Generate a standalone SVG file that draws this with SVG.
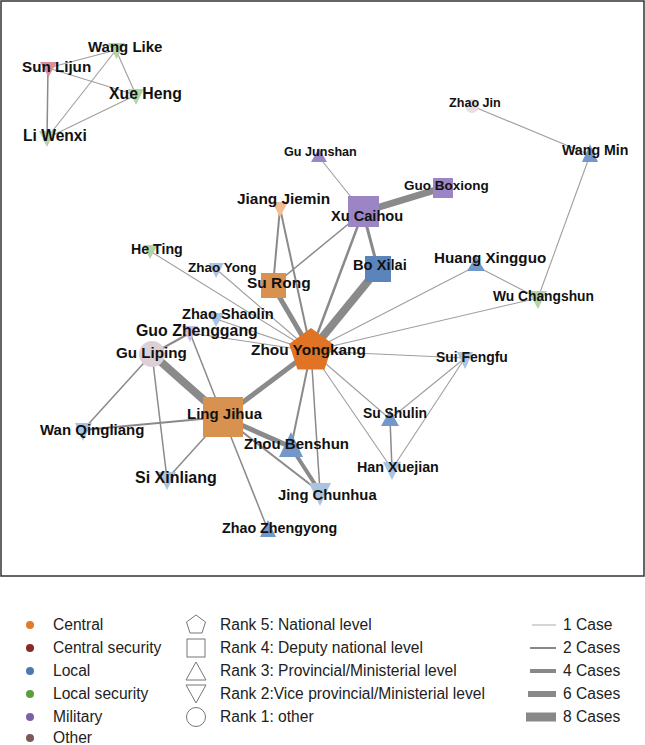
<svg xmlns="http://www.w3.org/2000/svg" width="645" height="745" viewBox="0 0 645 745">
<style>
.e{stroke:#8a8a8a;fill:none;stroke-linecap:butt}
.t{stroke:#9e9e9e;stroke-width:1.1}
.lb{font-family:"Liberation Sans",Arial,sans-serif;font-weight:bold;fill:#111}
.lg{font-family:"Liberation Sans",Arial,sans-serif;font-size:15.6px;fill:#222}
.ic{fill:#fff;stroke:#777;stroke-width:1}
.cen{fill:#e07424}.cenl{fill:#d9914f}.cenx{fill:#f2bd93}
.sec{fill:#dc8e99}
.loc3{fill:#7397c8}.loc2{fill:#a9c4e0}.loc4{fill:#5b84ba}
.ls{fill:#b3d5a6}
.mil{fill:#9c85c5}.mil2{fill:#c9bce2}
.oth{fill:#dccfd6}.oth2{fill:#e9dde2}
</style>
<rect x="1" y="1" width="643" height="575" fill="#fff" stroke="#333" stroke-width="1.5"/>
<g id="connectors">
<line class="e t" x1="48" y1="68" x2="116" y2="50"/>
<line class="e t" x1="48" y1="68" x2="136" y2="95"/>
<line class="e" stroke-width="1.5" x1="48" y1="68" x2="47" y2="138"/>
<line class="e t" x1="116" y1="50" x2="136" y2="95"/>
<line class="e t" x1="116" y1="50" x2="47" y2="138"/>
<line class="e t" x1="136" y1="95" x2="47" y2="138"/>
<line class="e t" x1="472" y1="106" x2="590" y2="155"/>
<line class="e t" x1="590" y1="155" x2="538" y2="298"/>
<line class="e t" x1="476" y1="266" x2="538" y2="298"/>
<line class="e t" x1="476" y1="266" x2="311" y2="351"/>
<line class="e t" x1="538" y1="298" x2="311" y2="351"/>
<line class="e t" x1="319" y1="157" x2="363" y2="212"/>
<line class="e" stroke-width="7" x1="442" y1="188" x2="363" y2="212"/>
<line class="e" stroke-width="3" x1="363" y1="212" x2="378" y2="269"/>
<line class="e" stroke-width="2.5" x1="363" y1="212" x2="311" y2="351"/>
<line class="e" stroke-width="1.5" x1="363" y1="212" x2="273" y2="286"/>
<line class="e" stroke-width="2" x1="280" y1="208" x2="273" y2="286"/>
<line class="e" stroke-width="2" x1="280" y1="208" x2="311" y2="351"/>
<line class="e" stroke-width="8" x1="378" y1="269" x2="311" y2="351"/>
<line class="e" stroke-width="5" x1="273" y1="286" x2="311" y2="351"/>
<line class="e t" x1="150" y1="251" x2="311" y2="351"/>
<line class="e t" x1="216" y1="269" x2="311" y2="351"/>
<line class="e t" x1="216" y1="319" x2="311" y2="351"/>
<line class="e t" x1="190" y1="333" x2="311" y2="351"/>
<line class="e" stroke-width="2" x1="190" y1="333" x2="152" y2="354"/>
<line class="e" stroke-width="1.5" x1="190" y1="333" x2="223" y2="417"/>
<line class="e" stroke-width="8" x1="152" y1="354" x2="223" y2="417"/>
<line class="e" stroke-width="1.5" x1="152" y1="354" x2="83" y2="430"/>
<line class="e" stroke-width="1.5" x1="152" y1="354" x2="167" y2="479"/>
<line class="e" stroke-width="2" x1="83" y1="430" x2="223" y2="417"/>
<line class="e" stroke-width="1.5" x1="167" y1="479" x2="223" y2="417"/>
<line class="e" stroke-width="5" x1="223" y1="417" x2="311" y2="351"/>
<line class="e" stroke-width="5" x1="223" y1="417" x2="291" y2="447"/>
<line class="e" stroke-width="2" x1="223" y1="417" x2="320" y2="492"/>
<line class="e" stroke-width="1.5" x1="223" y1="417" x2="268" y2="530"/>
<line class="e" stroke-width="4" x1="291" y1="447" x2="320" y2="492"/>
<line class="e" stroke-width="2" x1="311" y1="351" x2="291" y2="447"/>
<line class="e" stroke="#b0b0b0" stroke-width="1.5" x1="311" y1="351" x2="320" y2="492"/>
<line class="e t" x1="311" y1="351" x2="465" y2="358"/>
<line class="e t" x1="311" y1="351" x2="390" y2="419"/>
<line class="e t" x1="311" y1="351" x2="392" y2="469"/>
<line class="e t" x1="465" y1="358" x2="390" y2="419"/>
<line class="e t" x1="465" y1="358" x2="392" y2="469"/>
<line class="e" stroke-width="1.5" x1="390" y1="419" x2="392" y2="469"/>
</g>
<g id="node-sun-lijun"><polygon class="sec" points="40,62 57,62 48.5,77"/><text class="lb" x="22" y="72" font-size="15.2">Sun Lijun</text></g>
<g id="node-wang-like"><polygon class="ls" points="108,43 125,43 116.5,59"/><text class="lb" x="88" y="52" font-size="15">Wang Like</text></g>
<g id="node-xue-heng"><polygon class="ls" points="128,89 144,89 136,105"/><text class="lb" x="109" y="99" font-size="15.8">Xue Heng</text></g>
<g id="node-li-wenxi"><polygon class="ls" points="39,131 55,131 47,147"/><text class="lb" x="23" y="141" font-size="15.6">Li Wenxi</text></g>
<g id="node-zhao-jin"><circle class="oth2" cx="472" cy="106" r="7"/><text class="lb" x="449" y="107" font-size="12.6">Zhao Jin</text></g>
<g id="node-wang-min"><polygon class="loc3" points="590,144 598,162 582,162"/><text class="lb" x="562" y="155" font-size="14.2">Wang Min</text></g>
<g id="node-gu-junshan"><polygon class="mil" points="319,148 327,162 311,162"/><text class="lb" x="284" y="156" font-size="12.6">Gu Junshan</text></g>
<g id="node-guo-boxiong"><rect class="mil" x="433" y="178" width="20" height="20"/><text class="lb" x="404" y="190" font-size="13.5">Guo Boxiong</text></g>
<g id="node-jiang-jiemin"><polygon class="cenx" points="272,202 288,202 280,217"/><text class="lb" x="237" y="204" font-size="15.4">Jiang Jiemin</text></g>
<g id="node-xu-caihou"><rect class="mil" x="348" y="196" width="31" height="31"/><text class="lb" x="331" y="221" font-size="14.6">Xu Caihou</text></g>
<g id="node-he-ting"><polygon class="ls" points="143,245 158,245 150,259"/><text class="lb" x="131" y="254" font-size="14.2">He Ting</text></g>
<g id="node-huang-xingguo"><polygon class="loc3" points="476,256 485,271 467,271"/><text class="lb" x="434" y="263" font-size="15.2">Huang Xingguo</text></g>
<g id="node-bo-xilai"><rect class="loc4" x="365" y="256" width="26" height="26"/><text class="lb" x="353" y="270" font-size="14.7">Bo Xilai</text></g>
<g id="node-zhao-yong"><polygon class="loc2" points="209,263 224,263 216,278"/><text class="lb" x="188" y="272" font-size="13.5">Zhao Yong</text></g>
<g id="node-su-rong"><rect class="cenl" x="261" y="273" width="25" height="25"/><text class="lb" x="247" y="288" font-size="15.5">Su Rong</text></g>
<g id="node-wu-changshun"><polygon class="ls" points="528,291 547,291 538,309"/><text class="lb" x="493" y="301" font-size="13.8">Wu Changshun</text></g>
<g id="node-zhao-shaolin"><polygon class="loc2" points="209,313 224,313 216,327"/><text class="lb" x="182" y="319" font-size="14.6">Zhao Shaolin</text></g>
<g id="node-guo-zhenggang"><polygon class="mil2" points="182,326 198,326 190,342"/><text class="lb" x="136" y="336" font-size="15.9">Guo Zhenggang</text></g>
<g id="node-zhou-yongkang"><polygon class="cen" points="311,328 332.9,343.9 324.5,369.6 297.5,369.6 289.1,343.9"/><text class="lb" x="251" y="355" font-size="15.4">Zhou Yongkang</text></g>
<g id="node-gu-liping"><circle class="oth" cx="152" cy="354" r="13"/><text class="lb" x="116" y="358" font-size="15.2">Gu Liping</text></g>
<g id="node-sui-fengfu"><polygon class="loc2" points="457,352 473,352 465,369"/><text class="lb" x="436" y="362" font-size="13.9">Sui Fengfu</text></g>
<g id="node-su-shulin"><polygon class="loc3" points="390,410 399,426 381,426"/><text class="lb" x="363" y="418" font-size="13.9">Su Shulin</text></g>
<g id="node-ling-jihua"><rect class="cenl" x="203" y="397" width="40" height="40"/><text class="lb" x="187" y="419" font-size="15">Ling Jihua</text></g>
<g id="node-wan-qingliang"><polygon class="loc2" points="75,423 92,423 83,441"/><text class="lb" x="40" y="435" font-size="15">Wan Qingliang</text></g>
<g id="node-zhou-benshun"><polygon class="loc3" points="291,432 303,457 279,457"/><text class="lb" x="244" y="449" font-size="15">Zhou Benshun</text></g>
<g id="node-han-xuejian"><polygon class="loc2" points="383,462 401,462 392,480"/><text class="lb" x="357" y="472" font-size="14.3">Han Xuejian</text></g>
<g id="node-si-xinliang"><polygon class="loc2" points="158,472 176,472 167,490"/><text class="lb" x="135" y="483" font-size="16">Si Xinliang</text></g>
<g id="node-jing-chunhua"><polygon class="loc2" points="309,483 331,483 320,506"/><text class="lb" x="278" y="500" font-size="14.8">Jing Chunhua</text></g>
<g id="node-zhao-zhengyong"><polygon class="loc3" points="268,520 276,537 260,537"/><text class="lb" x="222" y="533" font-size="14.3">Zhao Zhengyong</text></g>
<g id="legend">
<circle cx="30" cy="625" r="4" fill="#e07b2b"/><text class="lg" x="53" y="630">Central</text>
<circle cx="30" cy="648" r="4" fill="#8b2a25"/><text class="lg" x="53" y="653">Central security</text>
<circle cx="30" cy="671" r="4" fill="#4b7ab3"/><text class="lg" x="53" y="676">Local</text>
<circle cx="30" cy="694" r="4" fill="#5e9d3d"/><text class="lg" x="53" y="699">Local security</text>
<circle cx="30" cy="717" r="4" fill="#7d5fa8"/><text class="lg" x="53" y="722">Military</text>
<circle cx="30" cy="738" r="4" fill="#7d5a5a"/><text class="lg" x="53" y="743">Other</text>
<polygon class="ic" points="196,615 205.5,622 202,633 190,633 186.5,622"/><text class="lg" x="220" y="630">Rank 5: National level</text>
<rect class="ic" x="187" y="639" width="18" height="18"/><text class="lg" x="220" y="653">Rank 4: Deputy national level</text>
<polygon class="ic" points="196,662 206,680 186,680"/><text class="lg" x="220" y="676">Rank 3: Provincial/Ministerial level</text>
<polygon class="ic" points="186,685 206,685 196,703"/><text class="lg" x="220" y="699">Rank 2:Vice provincial/Ministerial level</text>
<circle class="ic" cx="196" cy="717" r="9.5"/><text class="lg" x="220" y="722">Rank 1: other</text>
<line x1="532" y1="625" x2="556" y2="625" stroke="#aaa" stroke-width="1"/><text class="lg" x="563" y="630">1 Case</text>
<line x1="530" y1="648" x2="556" y2="648" stroke="#888" stroke-width="2"/><text class="lg" x="563" y="653">2 Cases</text>
<line x1="530" y1="671" x2="556" y2="671" stroke="#888" stroke-width="4"/><text class="lg" x="563" y="676">4 Cases</text>
<line x1="528" y1="694" x2="556" y2="694" stroke="#888" stroke-width="6"/><text class="lg" x="563" y="699">6 Cases</text>
<line x1="526" y1="717" x2="556" y2="717" stroke="#888" stroke-width="9"/><text class="lg" x="563" y="722">8 Cases</text>
</g>
</svg>
